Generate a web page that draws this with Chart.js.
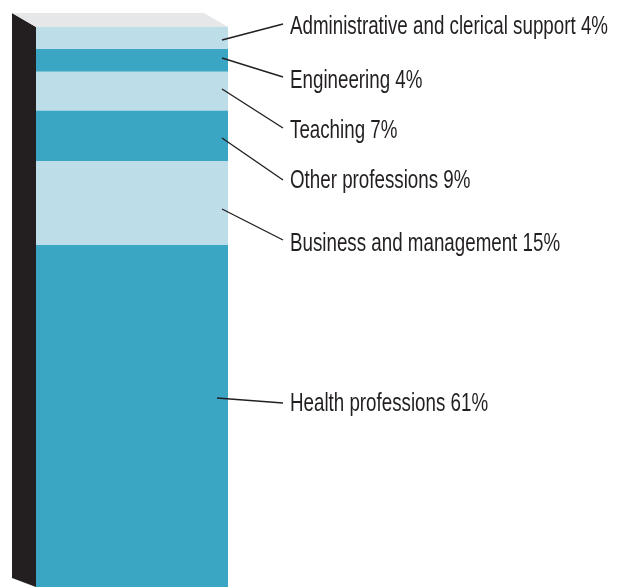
<!DOCTYPE html>
<html>
<head>
<meta charset="utf-8">
<script src="https://cdn.jsdelivr.net/npm/chart.js@4"></script>
<style>
  html, body { margin: 0; padding: 0; background: #fff; }
  #wrap { width: 619px; height: 587px; }
</style>
</head>
<body>
<div id="wrap"><canvas id="chartJobs"></canvas></div>
<script>
// shares, bottom of the column first
var categories = ["Health professions", "Business and management", "Other professions",
                  "Teaching", "Engineering", "Administrative and clerical support"];
var shares = [61, 15, 9, 7, 4, 4];
var fills = ['#3ba5c4', '#bddde8', '#3ba5c4', '#bddde8', '#3ba5c4', '#bddde8'];

// where each caption sits (px from top) and where its pointer starts inside the bar
var labelY = [404, 244, 181, 131, 81, 27];
var pointerY = [398, 209, 138, 89, 58, 40];
var pointerEnd = [403, 240, 180, 128, 77, 24];

var DEPTH_X = 24, DEPTH_Y = 14;
var LONGEST_CAPTION_PX = 318; // caption text is squeezed to a condensed look

// fake 3D: dark left side and pale top
var boxPlugin = {
    id: 'box',
    beforeDatasetsDraw: function(chart) {
        var a = chart.chartArea, ctx = chart.ctx;
        ctx.save();
        ctx.fillStyle = '#231f20';
        ctx.beginPath();
        ctx.moveTo(a.left - DEPTH_X, a.top - DEPTH_Y);
        ctx.lineTo(a.left, a.top);
        ctx.lineTo(a.left, a.bottom);
        ctx.lineTo(a.left - DEPTH_X, a.bottom - 9);
        ctx.closePath();
        ctx.fill();
        ctx.fillStyle = '#e6e7e8';
        ctx.beginPath();
        ctx.moveTo(a.left - DEPTH_X, a.top - DEPTH_Y);
        ctx.lineTo(a.right - DEPTH_X, a.top - DEPTH_Y);
        ctx.lineTo(a.right, a.top);
        ctx.lineTo(a.left, a.top);
        ctx.closePath();
        ctx.fill();
        ctx.restore();
    }
};

// captions with pointer lines
var captionPlugin = {
    id: 'captions',
    afterDatasetsDraw: function(chart) {
        var a = chart.chartArea, ctx = chart.ctx;
        var texts = categories.map(function(name, i) { return name + ' ' + shares[i] + '%'; });
        ctx.save();
        ctx.strokeStyle = '#231f20';
        ctx.lineWidth = 1.4;
        ctx.fillStyle = '#231f20';
        ctx.font = '26px "Liberation Sans", Arial, sans-serif';
        ctx.textBaseline = 'middle';
        var widest = Math.max.apply(null, texts.map(function(t) { return ctx.measureText(t).width; }));
        var squeeze = LONGEST_CAPTION_PX / widest;
        categories.forEach(function(name, i) {
            var bar = chart.getDatasetMeta(i).data[0];
            var x0 = bar.x + bar.width / 2 - 6 - (i === 0 ? 5 : 0);
            ctx.beginPath();
            ctx.moveTo(x0, pointerY[i]);
            ctx.lineTo(a.right + 55, pointerEnd[i]);
            ctx.stroke();
            ctx.save();
            ctx.translate(a.right + 62, labelY[i]);
            ctx.scale(squeeze, 1);
            ctx.fillText(texts[i], 0, 0);
            ctx.restore();
        });
        ctx.restore();
    }
};

new Chart(document.getElementById("chartJobs"), {
    type: 'bar',
    data: {
        labels: [""],
        datasets: categories.map(function(name, i) {
            return {
                label: name,
                data: [shares[i]],
                backgroundColor: fills[i],
                borderWidth: 0,
                barPercentage: 1,
                categoryPercentage: 1
            };
        })
    },
    options: {
        responsive: true,
        maintainAspectRatio: false,
        animation: false,
        layout: { padding: { left: 36, right: 391, top: 27, bottom: 0 } },
        plugins: { legend: { display: false }, tooltip: { enabled: false } },
        scales: {
            x: { stacked: true, display: false },
            y: { stacked: true, display: false, min: 0, max: 100 }
        }
    },
    plugins: [boxPlugin, captionPlugin]
});
</script>
</body>
</html>
